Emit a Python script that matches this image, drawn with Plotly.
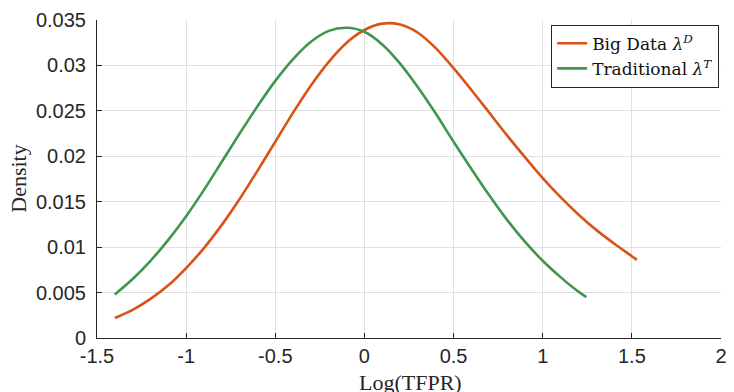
import plotly.graph_objects as go

# Big Data lambda^D density
x_big = [-1.4, -1.3, -1.2, -1.1, -1.0, -0.9, -0.8, -0.7, -0.6, -0.5, -0.4, -0.3, -0.2, -0.1,
         0.0, 0.1, 0.2, 0.3, 0.4, 0.5, 0.6, 0.7, 0.8, 0.9, 1.0, 1.1, 1.2, 1.3, 1.4, 1.5, 1.528]
y_big = [0.0022, 0.0031, 0.0043, 0.0058, 0.0077, 0.0099, 0.01245, 0.0153, 0.0184, 0.0216, 0.0248,
         0.0278, 0.0304, 0.0325, 0.0339, 0.0346, 0.0345, 0.0336, 0.0319, 0.0297, 0.0273, 0.0248,
         0.0223, 0.0199, 0.0176, 0.0155, 0.0136, 0.0119, 0.0104, 0.0090, 0.0086]

# Traditional lambda^T density
x_trad = [-1.4, -1.3, -1.2, -1.1, -1.0, -0.9, -0.8, -0.7, -0.6, -0.5, -0.4, -0.3, -0.2, -0.1,
          0.0, 0.1, 0.2, 0.3, 0.4, 0.5, 0.6, 0.7, 0.8, 0.9, 1.0, 1.1, 1.2, 1.245]
y_trad = [0.0048, 0.0065, 0.0085, 0.0108, 0.0134, 0.0163, 0.0194, 0.0225, 0.0255, 0.0283, 0.0307,
          0.0326, 0.0338, 0.03415, 0.0337, 0.0323, 0.0302, 0.0276, 0.0247, 0.0216, 0.0186, 0.0157,
          0.0130, 0.0106, 0.0085, 0.0067, 0.0051, 0.0045]

x_ticks = [-1.5, -1, -0.5, 0, 0.5, 1, 1.5, 2]
x_tick_labels = ["-1.5", "-1", "-0.5", "0", "0.5", "1", "1.5", "2"]
y_ticks = [0, 0.005, 0.01, 0.015, 0.02, 0.025, 0.03, 0.035]
y_tick_labels = ["0", "0.005", "0.01", "0.015", "0.02", "0.025", "0.03", "0.035"]

ORANGE = "#D95319"
GREEN = "#3E9651"
AXIS = "#262626"
GRID = "#E0E0E0"
SANS = "Liberation Sans, Arial, sans-serif"
SERIF = "Liberation Serif, Times New Roman, serif"

fig = go.Figure()
fig.add_trace(go.Scatter(x=x_big, y=y_big, mode="lines", name="Big Data <i>λ</i><sup><i>D</i></sup>",
                         line=dict(color=ORANGE, width=2.6, shape="spline", smoothing=0.8)))
fig.add_trace(go.Scatter(x=x_trad, y=y_trad, mode="lines", name="Traditional <i>λ</i><sup><i>T</i></sup>",
                         line=dict(color=GREEN, width=2.6, shape="spline", smoothing=0.8)))

axis_common = dict(showline=True, linecolor=AXIS, linewidth=1, ticks="inside", ticklen=5,
                   tickcolor=AXIS, tickwidth=1, showgrid=True, gridcolor=GRID, gridwidth=1,
                   zeroline=False, tickfont=dict(family=SANS, size=20, color="#262626"), mirror=False)

fig.update_xaxes(range=[-1.5, 2], tickvals=x_ticks, ticktext=x_tick_labels, **axis_common)
fig.update_yaxes(range=[0, 0.035], tickvals=y_ticks, ticktext=y_tick_labels,
                 ticklabelstandoff=6, **axis_common)

fig.add_annotation(text="Log(TFPR)", xref="paper", yref="paper", x=0.503, y=-0.095,
                   xanchor="center", yanchor="top", showarrow=False,
                   font=dict(family=SERIF, size=22, color="#262626"))
fig.add_annotation(text="Density", xref="paper", yref="paper", x=-0.127, y=0.5,
                   xanchor="center", yanchor="middle", showarrow=False, textangle=-90,
                   font=dict(family=SERIF, size=22, color="#262626"))

fig.update_layout(
    width=734, height=392,
    margin=dict(l=97, r=7, t=20, b=54),
    plot_bgcolor="white", paper_bgcolor="white",
    legend=dict(x=0.997, y=0.985, xanchor="right", yanchor="top",
                bgcolor="white", bordercolor=AXIS, borderwidth=1,
                font=dict(family="DejaVu Serif, serif", size=17, color="#111111"),
                tracegroupgap=0),
    showlegend=True,
)

fig.write_html("out.html", config={"displayModeBar": False},
               post_script="document.body.style.margin='0';document.body.style.padding='0';")
